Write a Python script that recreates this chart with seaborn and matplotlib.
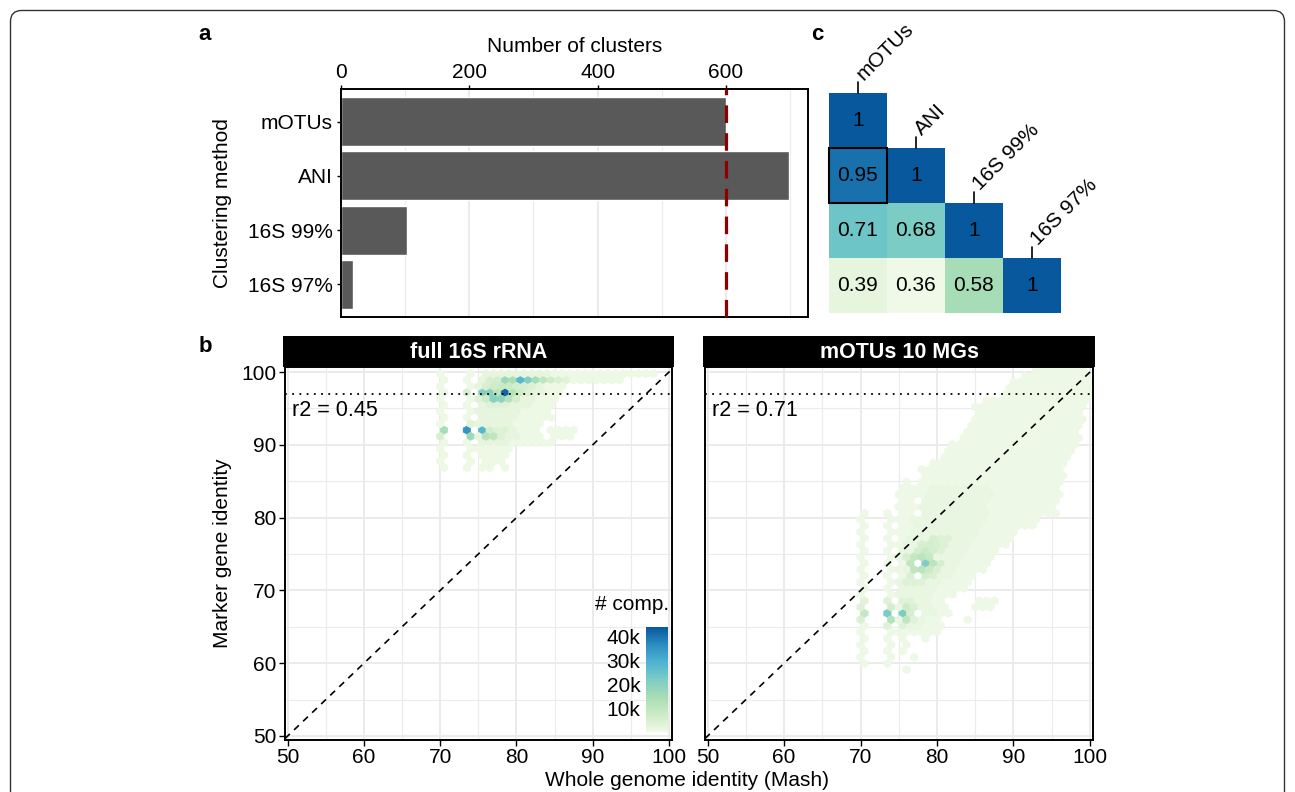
import numpy as np
import pandas as pd
import matplotlib
matplotlib.use("Agg")
import matplotlib.pyplot as plt
import seaborn as sns
from matplotlib.colors import LinearSegmentedColormap
from matplotlib.patches import FancyBboxPatch, Rectangle
from matplotlib.transforms import IdentityTransform
from matplotlib.ticker import MultipleLocator, FixedLocator

# ---------------- data ----------------
methods = ["mOTUs", "ANI", "16S 99%", "16S 97%"]
n_clusters = [600, 698, 103, 19]

corr_values = [[1.00, 0.00, 0.00, 0.00],
               [0.95, 1.00, 0.00, 0.00],
               [0.71, 0.68, 1.00, 0.00],
               [0.39, 0.36, 0.58, 1.00]]

facets = ["full 16S rRNA", "mOTUs 10 MGs"]
r2_values = [0.45, 0.71]
cbar_ticks = [10000, 20000, 30000, 40000]
cbar_labels = ["10k", "20k", "30k", "40k"]

# full 16S rRNA: rows of hex cells (y, first x, last x) with faint counts
s16_seg_y = [99.77, 99.77, 99.77, 98.91, 98.91, 98.91, 98.05, 98.05, 98.05,
             97.19, 97.19, 97.19, 96.33, 96.33, 96.33, 95.47, 95.47, 95.47,
             94.61, 94.61, 94.61, 93.75, 93.75, 93.75, 92.89, 92.89, 92.89,
             92.03, 92.03, 92.03, 92.03, 91.17, 91.17, 91.17, 91.17,
             90.31, 90.31, 90.31, 89.45, 89.45, 89.45, 88.59, 88.59, 88.59,
             87.73, 87.73, 87.73, 86.87, 86.87, 86.87, 86.87]
s16_seg_x0 = [70, 74, 76, 70.5, 73.5, 75.5, 70, 74, 75,
              70.5, 73.5, 75.5, 70, 74, 75, 70.5, 73.5, 75.5,
              70, 74, 75, 70.5, 73.5, 75.5, 70, 74, 75,
              70.5, 73.5, 75.5, 84.5, 70, 74, 75, 85,
              70.5, 73.5, 75.5, 70, 74, 75, 70.5, 73.5, 75.5,
              70, 74, 76, 70.5, 73.5, 75.5, 78.5]
s16_seg_x1 = [70, 74, 98, 70.5, 73.5, 93.5, 70, 74, 86,
              70.5, 73.5, 85.5, 70, 74, 85, 70.5, 73.5, 84.5,
              70, 74, 84, 70.5, 73.5, 84.5, 70, 74, 83,
              70.5, 73.5, 82.5, 87.5, 70, 74, 83, 87,
              70.5, 73.5, 84.5, 70, 74, 79, 70.5, 73.5, 78.5,
              70, 74, 78, 70.5, 73.5, 76.5, 78.5]
s16_base = 800
s16_mid_y = [99.77, 98.91, 98.05, 97.19, 96.33, 95.47, 94.61, 93.75, 92.89, 92.03, 91.17, 90.31]
s16_mid_x0 = [76, 75.5, 75, 75.5, 75, 75.5, 75, 75.5, 75, 75.5, 75, 75.5]
s16_mid_x1 = [84, 86.5, 83, 83.5, 82, 81.5, 80, 79.5, 79, 79.5, 80, 78.5]
s16_mid = 1900
s16_hot_x = [78.5, 79.5, 80.5, 81.5, 82.5, 83.5, 84.5, 77.5, 76.5, 85.5, 86.5,
             76, 77, 78, 79, 80, 81, 82,
             73.5, 75.5, 76.5, 77.5, 78.5, 79.5, 80.5, 81.5,
             75, 76, 77, 78, 79, 80,
             76.5, 77.5, 78.5,
             70.5, 73.5, 75.5, 76.5, 77.5, 78.5,
             70, 74, 76, 77, 78, 74]
s16_hot_y = [98.91] * 11 + [98.05] * 7 + [97.19] * 8 + [96.33] * 6 + [95.47] * 3 + \
            [92.03] * 6 + [91.17] * 5 + [92.89]
s16_hot_n = [17000, 14000, 28000, 21000, 15000, 10000, 7000, 6000, 5000, 4500, 3500,
             5000, 7000, 8000, 8000, 6000, 5000, 4000,
             5000, 21000, 20000, 11000, 42000, 12000, 7000, 4000,
             4000, 7000, 20000, 19000, 12000, 6000,
             3500, 3500, 3500,
             15000, 35000, 28000, 6000, 4000, 4000,
             5000, 16000, 12000, 10000, 4000, 3000]

# mOTUs 10 MGs: rows of hex cells (y, first x, last x) with faint counts
mg_seg_y = [100.39, 99.53, 98.67, 97.81, 96.95, 96.09, 95.23, 94.37, 93.51, 92.65,
            91.79, 90.93, 90.07, 89.21, 88.35, 87.49, 86.63, 85.77, 84.91, 84.91,
            84.05, 83.19, 82.33, 82.33, 81.47,
            80.61, 80.61, 80.61, 80.61, 79.75, 79.75, 79.75,
            78.89, 78.89, 78.89, 78.03, 78.03, 78.03, 77.17, 77.17, 77.17,
            76.31, 76.31, 76.31, 75.45, 75.45, 75.45, 74.59, 74.59, 74.59,
            73.73, 73.73, 73.73, 73.73, 72.87, 72.87, 72.87,
            72.01, 72.01, 72.01, 72.01, 71.15, 71.15, 71.15,
            70.29, 70.29, 70.29, 69.43, 69.43, 69.43,
            68.57, 68.57, 68.57, 68.57, 67.71, 67.71, 67.71, 67.71,
            66.85, 66.85, 66.85, 66.85, 65.99, 65.99, 65.99, 65.99,
            65.13, 65.13, 65.13, 64.27, 64.27, 64.27,
            63.41, 63.41, 63.41, 63.41, 62.55, 62.55, 62.55,
            61.69, 61.69, 61.69, 60.83, 60.83, 60.83, 59.97, 59.97, 59.11]
mg_seg_x0 = [93, 91.5, 90, 89.5, 89, 86.5, 85, 85.5, 85, 84.5,
             84, 83.5, 82, 81.5, 81, 79.5, 78, 78.5, 76, 78,
             75.5, 75, 75.5, 78.5, 75,
             70.5, 73.5, 75.5, 78.5, 70, 74, 75,
             70.5, 73.5, 75.5, 70, 74, 75, 70.5, 73.5, 75.5,
             70, 74, 75, 70.5, 73.5, 75.5, 70, 74, 75,
             70.5, 73.5, 75.5, 78.5, 70, 74, 75,
             70.5, 73.5, 75.5, 78.5, 70, 74, 75,
             70.5, 73.5, 75.5, 70, 74, 75,
             70.5, 73.5, 75.5, 85.5, 70, 74, 75, 85,
             70.5, 73.5, 75.5, 78.5, 70, 74, 75, 84,
             70.5, 73.5, 75.5, 70, 74, 75,
             70.5, 73.5, 75.5, 78.5, 70, 74, 76,
             70.5, 73.5, 75.5, 70, 74, 77, 70.5, 73.5, 76]
mg_seg_x1 = [99, 99.5, 100, 99.5, 100, 99.5, 99, 98.5, 99, 98.5,
             98, 98.5, 98, 97.5, 97, 96.5, 96, 96.5, 76, 96,
             95.5, 96, 76.5, 95.5, 95,
             70.5, 73.5, 76.5, 95.5, 70, 74, 93,
             70.5, 73.5, 92.5, 70, 74, 90, 70.5, 73.5, 89.5,
             70, 74, 89, 70.5, 73.5, 87.5, 70, 74, 87,
             70.5, 73.5, 76.5, 86.5, 70, 74, 86,
             70.5, 73.5, 76.5, 84.5, 70, 74, 84,
             70.5, 73.5, 83.5, 70, 74, 82,
             70.5, 73.5, 80.5, 87.5, 70, 74, 81, 87,
             70.5, 73.5, 76.5, 81.5, 70, 74, 80, 84,
             70.5, 73.5, 80.5, 70, 74, 80,
             70.5, 73.5, 75.5, 78.5, 70, 74, 76,
             70.5, 73.5, 75.5, 70, 74, 77, 70.5, 73.5, 76]
mg_base = 500
mg_mid_y = [84.05, 83.19, 82.33, 81.47, 80.61, 79.75, 78.89, 78.03, 77.17, 76.31,
            75.45, 74.59, 73.73, 72.87, 72.01, 71.15, 70.29, 69.43, 68.57, 67.71,
            66.85, 65.99, 65.13]
mg_mid_x0 = [79.5, 79, 78.5, 78, 78.5, 77, 77.5, 77, 76.5, 76,
             75.5, 75, 79.5, 75, 78.5, 75, 75.5, 75, 75.5, 75,
             78.5, 75, 75.5]
mg_mid_x1 = [86.5, 87, 86.5, 86, 86.5, 86, 85.5, 85, 84.5, 84,
             83.5, 83, 82.5, 82, 81.5, 80, 79.5, 79, 78.5, 79,
             79.5, 78, 77.5]
mg_mid = 1500
mg_hot_x = [78.5, 77, 78, 79, 76.5, 79.5, 80.5, 77, 78, 79, 80,
            77.5, 78.5, 79.5, 80.5, 78, 79, 80, 81, 79.5, 80.5, 81.5,
            76, 76.5, 78.5, 79.5, 76, 77, 78,
            73.5, 75.5, 70.5, 76.5, 74, 76, 70, 77, 74, 76, 77, 70,
            73.5, 75.5, 76.5, 73.5, 75.5, 70.5]
mg_hot_y = [73.73, 74.59, 74.59, 74.59, 73.73, 73.73, 73.73, 72.87, 72.87, 72.87, 72.87,
            75.45, 75.45, 75.45, 75.45, 76.31, 76.31, 76.31, 76.31, 77.17, 77.17, 77.17,
            74.59, 72.01, 72.01, 72.01, 71.15, 71.15, 71.15,
            66.85, 66.85, 66.85, 66.85, 65.99, 65.99, 65.99, 65.99, 67.71, 67.71, 67.71, 67.71,
            68.57, 68.57, 68.57, 65.13, 65.13, 68.57]
mg_hot_n = [21000, 9000, 11000, 9000, 10000, 11000, 5000, 10000, 11000, 8000, 4500,
            6000, 8000, 6000, 4000, 5000, 6000, 5000, 4000, 5000, 4000, 3500,
            5000, 4500, 6000, 4500, 3500, 3500, 3500,
            22000, 22000, 9000, 5000, 12000, 10000, 4500, 3500, 6000, 7000, 4500, 3500,
            3500, 3500, 3500, 3500, 3500, 3000]

# ---------------- style ----------------
sns.set_style("white")
plt.rcParams['font.family'] = ['Liberation Sans', 'DejaVu Sans']
plt.rcParams['text.color'] = 'black'
plt.rcParams['axes.labelcolor'] = 'black'
plt.rcParams['xtick.color'] = 'black'
plt.rcParams['ytick.color'] = 'black'
gnbu = LinearSegmentedColormap.from_list(
    "gnbu7", ['#f0f9e8', '#ccebc5', '#a8ddb5', '#7bccc4', '#4eb3d3', '#2b8cbe', '#08589e'])
FS = 15
W, H = 1295, 792
fig = plt.figure(figsize=(W / 100, H / 100), dpi=100)


def fbox(x0, y0, x1, y1):
    return [x0 / W, 1 - y1 / H, (x1 - x0) / W, (y1 - y0) / H]


def expand(seg_y, seg_x0, seg_x1, count):
    xs, ys, cs = [], [], []
    for y, a, b in zip(seg_y, seg_x0, seg_x1):
        for x in np.arange(a, b + 0.01, 1.0):
            xs.append(x); ys.append(y); cs.append(count)
    return xs, ys, cs


# ---------------- panel a ----------------
ax_a = fig.add_axes(fbox(341, 89, 808, 317))
df_a = pd.DataFrame({"method": methods, "n": n_clusters})
sns.barplot(data=df_a, x="n", y="method", orient="h", color="#595959", width=0.9,
            saturation=1, errorbar=None, ax=ax_a, zorder=2)
ax_a.set_xlim(0, 728)
ax_a.set_ylim(3.6, -0.6)
ax_a.xaxis.tick_top()
ax_a.xaxis.set_label_position('top')
ax_a.set_xticks([0, 200, 400, 600])
ax_a.xaxis.set_minor_locator(FixedLocator([100, 300, 500, 700]))
ax_a.grid(axis='x', which='major', color='#ebebeb', lw=1.5)
ax_a.grid(axis='x', which='minor', color='#ebebeb', lw=0.8)
ax_a.grid(axis='y', visible=False)
ax_a.set_axisbelow(True)
ax_a.axvline(600, color='#8b0000', lw=2.3, ls=(0, (5.5, 3.2)), zorder=4)
ax_a.set_xlabel("Number of clusters", fontsize=FS, labelpad=8, color='black')
ax_a.set_ylabel("")
ax_a.tick_params(axis='x', which='major', top=True, bottom=False, length=3, width=1,
                 labelsize=FS, pad=2, color='black', labelcolor='black')
ax_a.tick_params(axis='x', which='minor', top=False, bottom=False, length=0)
ax_a.tick_params(axis='y', left=True, length=3, width=1, labelsize=FS, pad=3,
                 color='black', labelcolor='black')
for s in ax_a.spines.values():
    s.set_linewidth(1.4); s.set_color('black')

# ---------------- panel c ----------------
ax_c = fig.add_axes(fbox(829, 93, 1061, 313))
corr_df = pd.DataFrame(corr_values, index=methods, columns=methods)
mask = np.triu(np.ones((4, 4), dtype=bool), k=1)
sns.heatmap(corr_df, mask=mask, cmap=gnbu, vmin=0.36, vmax=1, annot=True, fmt='g',
            annot_kws=dict(size=FS, color='black'), cbar=False,
            xticklabels=False, yticklabels=False, ax=ax_c, linewidths=0)
ax_c.add_patch(Rectangle((0, 1), 1, 1, fill=False, ec='black', lw=1.5, clip_on=False, zorder=5))
for i, name in enumerate(methods):
    ax_c.plot([i + 0.5, i + 0.5], [i, i - 0.2], color='black', lw=1.2, clip_on=False)
    ax_c.text(i + 0.6, i - 0.22, name, rotation=45, rotation_mode='anchor',
              ha='left', va='baseline', fontsize=FS, clip_on=False, color='black')
for s in ax_c.spines.values():
    s.set_visible(False)

# ---------------- panel b ----------------
panels = [
    (fbox(285, 367, 672, 740), fbox(283, 336, 674, 367),
     (s16_seg_y, s16_seg_x0, s16_seg_x1, s16_base), (s16_mid_y, s16_mid_x0, s16_mid_x1, s16_mid),
     (s16_hot_x, s16_hot_y, s16_hot_n), (49.5, 100.5, 49.03, 100.63)),
    (fbox(705, 367, 1093, 740), fbox(703, 336, 1095, 367),
     (mg_seg_y, mg_seg_x0, mg_seg_x1, mg_base), (mg_mid_y, mg_mid_x0, mg_mid_x1, mg_mid),
     (mg_hot_x, mg_hot_y, mg_hot_n), (49.5, 100.5, 49.65, 101.25)),
]
hb_first = None
for k, (rect, srect, base, mid, hot, ext) in enumerate(panels):
    ax = fig.add_axes(rect)
    bx, by, bc = expand(*base)
    mx, my, mc = expand(*mid)
    x = np.array(bx + mx + list(hot[0]))
    y = np.array(by + my + list(hot[1]))
    c = np.array(bc + mc + list(hot[2]), dtype=float)
    hb = ax.hexbin(x, y, C=c, reduce_C_function=np.max, gridsize=(51, 30), extent=ext,
                   cmap=gnbu, vmin=0, vmax=44000, linewidths=0.3, edgecolors='face', zorder=2)
    if hb_first is None:
        hb_first = hb
    ax.set_xlim(49.65, 100.4)
    ax.set_ylim(49.45, 100.7)
    ax.set_xticks(range(50, 101, 10))
    ax.set_yticks(range(50, 101, 10))
    ax.xaxis.set_minor_locator(MultipleLocator(5))
    ax.yaxis.set_minor_locator(MultipleLocator(5))
    ax.grid(which='major', color='#ebebeb', lw=1.4)
    ax.grid(which='minor', color='#ebebeb', lw=0.8)
    ax.set_axisbelow(True)
    ax.axline((60, 60), slope=1, color='black', lw=1.2, ls=(0, (4, 3.5)), zorder=3)
    ax.axhline(97, color='black', lw=1.3, ls=(0, (1, 3)), zorder=3)
    ax.text(50.6, 94.7, f"r2 = {r2_values[k]:.2f}", fontsize=FS + 0.5, va='center', ha='left',
            zorder=4, color='black')
    ax.tick_params(axis='x', which='major', bottom=True, length=4, width=1, labelsize=FS, pad=2,
                   color='black', labelcolor='black')
    ax.tick_params(which='minor', length=0)
    if k == 0:
        ax.tick_params(axis='y', which='major', left=True, length=4, width=1, labelsize=FS, pad=2,
                       color='black', labelcolor='black')
    else:
        ax.tick_params(axis='y', which='major', left=False, labelleft=False)
    for s in ax.spines.values():
        s.set_linewidth(1.4); s.set_color('black')
    sax = fig.add_axes(srect)
    sax.set_facecolor('black')
    sax.set_xticks([]); sax.set_yticks([])
    for s in sax.spines.values():
        s.set_visible(False)
    sax.text(0.5, 0.47, facets[k], color='white', fontweight='bold', fontsize=FS + 0.5,
             ha='center', va='center', transform=sax.transAxes)

# colour legend
cax = fig.add_axes(fbox(646, 627, 668, 732))
cb = fig.colorbar(hb_first, cax=cax, ticks=cbar_ticks)
cb.ax.set_yticklabels(cbar_labels)
cb.outline.set_visible(False)
cax.tick_params(axis='y', direction='in', length=4, width=1, color='white', labelcolor='black',
                labelsize=FS, left=True, right=True, labelleft=True, labelright=False, pad=4)
fig.text(669 / W, 1 - 605 / H, "# comp.", ha='right', va='center', fontsize=FS, color='black')

# figure texts
fig.text(222 / W, 1 - 203 / H, "Clustering method", rotation=90, ha='center', va='center',
         fontsize=FS, color='black')
fig.text(222 / W, 1 - 553 / H, "Marker gene identity", rotation=90, ha='center', va='center',
         fontsize=FS, color='black')
fig.text(687 / W, 1 - 790 / H, "Whole genome identity (Mash)", ha='center', va='bottom',
         fontsize=FS, color='black')
for lab, px, py in [("a", 205, 35), ("b", 205, 347), ("c", 817, 35)]:
    fig.text(px / W, 1 - py / H, lab, fontweight='bold', fontsize=16, ha='center', va='center',
             color='black')

# outer rounded frame
frame = FancyBboxPatch((10.5, -40), 1274, H - 10.5 + 40, boxstyle="round,pad=0,rounding_size=11",
                       transform=IdentityTransform(), fill=False, ec='#333333', lw=1.0)
fig.add_artist(frame)

fig.savefig("out.png", dpi=100)
